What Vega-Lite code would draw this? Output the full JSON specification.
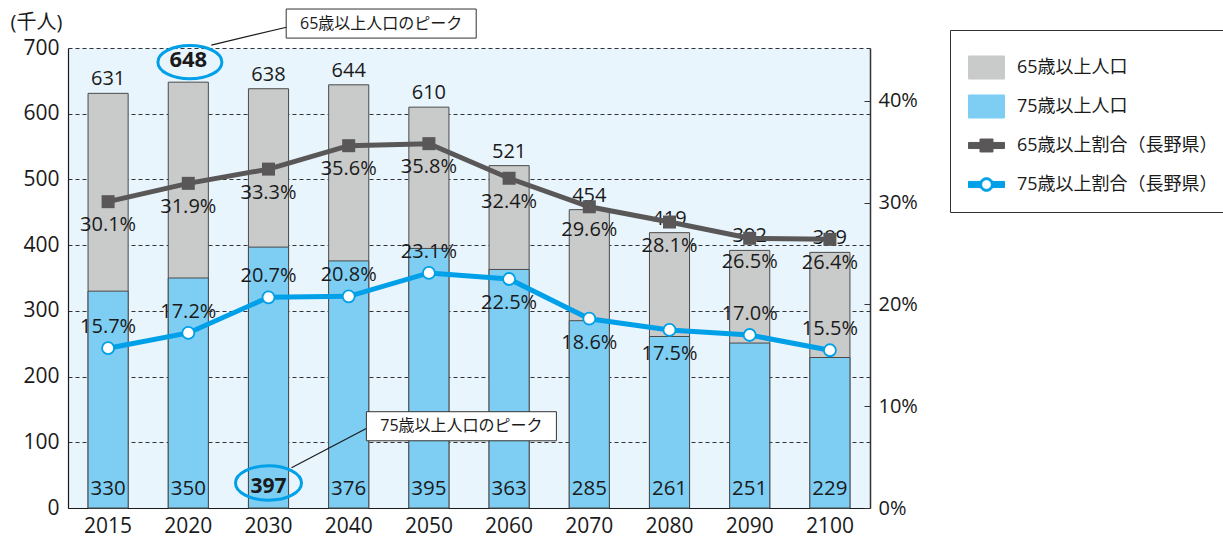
{
  "$schema": "https://vega.github.io/schema/vega-lite/v6.json",
  "width": 802,
  "height": 460,
  "autosize": {"type": "none"},
  "padding": {"left": 68, "top": 48, "right": 353, "bottom": 29},
  "background": "white",
  "config": {
    "font": "Open Sans, Noto Sans CJK JP, sans-serif",
    "view": {"fill": "#e9f5fd", "stroke": null},
    "text": {"font": "Open Sans, Noto Sans CJK JP, sans-serif", "color": "#1a1a1a"},
    "axis": {"labelFont": "Open Sans, Noto Sans CJK JP, sans-serif", "labelColor": "#1a1a1a", "titleFont": "Open Sans, Noto Sans CJK JP, sans-serif"}
  },
  "datasets": {
    "pop": [
      {"year": "2015", "series": "65歳以上人口", "value": 631},
      {"year": "2020", "series": "65歳以上人口", "value": 648},
      {"year": "2030", "series": "65歳以上人口", "value": 638},
      {"year": "2040", "series": "65歳以上人口", "value": 644},
      {"year": "2050", "series": "65歳以上人口", "value": 610},
      {"year": "2060", "series": "65歳以上人口", "value": 521},
      {"year": "2070", "series": "65歳以上人口", "value": 454},
      {"year": "2080", "series": "65歳以上人口", "value": 419},
      {"year": "2090", "series": "65歳以上人口", "value": 392},
      {"year": "2100", "series": "65歳以上人口", "value": 389},
      {"year": "2015", "series": "75歳以上人口", "value": 330},
      {"year": "2020", "series": "75歳以上人口", "value": 350},
      {"year": "2030", "series": "75歳以上人口", "value": 397},
      {"year": "2040", "series": "75歳以上人口", "value": 376},
      {"year": "2050", "series": "75歳以上人口", "value": 395},
      {"year": "2060", "series": "75歳以上人口", "value": 363},
      {"year": "2070", "series": "75歳以上人口", "value": 285},
      {"year": "2080", "series": "75歳以上人口", "value": 261},
      {"year": "2090", "series": "75歳以上人口", "value": 251},
      {"year": "2100", "series": "75歳以上人口", "value": 229}
    ],
    "ratio": [
      {"year": "2015", "series": "65歳以上割合（長野県）", "ratio": 0.301},
      {"year": "2020", "series": "65歳以上割合（長野県）", "ratio": 0.319},
      {"year": "2030", "series": "65歳以上割合（長野県）", "ratio": 0.333},
      {"year": "2040", "series": "65歳以上割合（長野県）", "ratio": 0.356},
      {"year": "2050", "series": "65歳以上割合（長野県）", "ratio": 0.358},
      {"year": "2060", "series": "65歳以上割合（長野県）", "ratio": 0.324},
      {"year": "2070", "series": "65歳以上割合（長野県）", "ratio": 0.296},
      {"year": "2080", "series": "65歳以上割合（長野県）", "ratio": 0.281},
      {"year": "2090", "series": "65歳以上割合（長野県）", "ratio": 0.265},
      {"year": "2100", "series": "65歳以上割合（長野県）", "ratio": 0.264},
      {"year": "2015", "series": "75歳以上割合（長野県）", "ratio": 0.157},
      {"year": "2020", "series": "75歳以上割合（長野県）", "ratio": 0.172},
      {"year": "2030", "series": "75歳以上割合（長野県）", "ratio": 0.207},
      {"year": "2040", "series": "75歳以上割合（長野県）", "ratio": 0.208},
      {"year": "2050", "series": "75歳以上割合（長野県）", "ratio": 0.231},
      {"year": "2060", "series": "75歳以上割合（長野県）", "ratio": 0.225},
      {"year": "2070", "series": "75歳以上割合（長野県）", "ratio": 0.186},
      {"year": "2080", "series": "75歳以上割合（長野県）", "ratio": 0.175},
      {"year": "2090", "series": "75歳以上割合（長野県）", "ratio": 0.17},
      {"year": "2100", "series": "75歳以上割合（長野県）", "ratio": 0.155}
    ],
    "callouts": [
      {"year": "2040", "v": 737.2, "label": "65歳以上人口のピーク"},
      {"year": "2050", "v": 124.4, "label": "75歳以上人口のピーク"}
    ],
    "leaders": [
      {"year": "2020", "year2": "2030", "v": 704.5, "v2": 731.9},
      {"year": "2030", "year2": "2040", "v": 61.3, "v2": 122.1}
    ]
  },
  "layer": [
    {
      "encoding": {
        "x": {
          "field": "year", "type": "ordinal",
          "scale": {"paddingInner": 0.5, "paddingOuter": 0.25},
          "axis": {"title": null, "labelAngle": 0, "labelFontSize": 21, "labelPadding": 7, "ticks": false, "domainColor": "#1a1a1a", "domainWidth": 1.2}
        }
      },
      "layer": [
        {
          "data": {"name": "pop"},
          "mark": {"type": "bar", "stroke": "#4a4a4a", "strokeWidth": 1},
          "encoding": {
            "y": {
              "field": "value", "type": "quantitative", "stack": null,
              "scale": {"domain": [0, 700], "nice": false},
              "axis": {
                "orient": "left", "values": [0, 100, 200, 300, 400, 500, 600, 700],
                "labelFontSize": 21, "labelPadding": 9, "ticks": false,
                "domainColor": "#1a1a1a", "domainWidth": 1.2,
                "grid": true, "gridColor": "#333333", "gridDash": [4, 3], "gridWidth": 1,
                "title": "(千人)", "titleAngle": 0, "titleAlign": "left", "titleBaseline": "alphabetic",
                "titleX": -58, "titleY": -20, "titleFontSize": 20, "titleFontWeight": "normal", "titleColor": "#1a1a1a"
              }
            },
            "color": {
              "field": "series", "type": "nominal",
              "scale": {
                "domain": ["65歳以上人口", "75歳以上人口", "65歳以上割合（長野県）", "75歳以上割合（長野県）"],
                "range": ["#c9caca", "#7ecef4", "#595757", "#00a0e9"]
              },
              "legend": {
                "orient": "none", "legendX": 882, "legendY": -18,
                "title": " ", "titleFontSize": 8, "titlePadding": 4,
                "padding": 7, "symbolOffset": 11, "labelOffset": 12, "rowPadding": -2.2,
                "symbolSize": 1296, "labelFontSize": 18, "labelColor": "#1a1a1a", "labelLimit": 320,
                "labelFont": "Open Sans, Noto Sans CJK JP, sans-serif",
                "strokeColor": "#333333", "fillColor": "white", "cornerRadius": 0,
                "symbolType": {"expr": "datum.value === '65歳以上人口' || datum.value === '75歳以上人口' ? 'M-1,-1M1,1M-1,-0.64H1V0.64H-1Z' : datum.value === '65歳以上割合（長野県）' ? 'M-1,-1M1,1M-1,-0.17H1V0.17H-1Z M-0.36,-0.36H0.36V0.36H-0.36Z' : 'M-1,-1M1,1M-1,-0.17H-0.3V0.17H-1Z M0.3,-0.17H1V0.17H0.3Z M-0.38,0A0.38,0.38 0 1,1 0.38,0A0.38,0.38 0 1,1 -0.38,0Z M-0.27,0A0.27,0.27 0 1,0 0.27,0A0.27,0.27 0 1,0 -0.27,0Z'"},
                "symbolStrokeWidth": 1,
                "symbolStrokeColor": {"expr": "datum.value === '65歳以上人口' || datum.value === '75歳以上人口' ? '#333333' : 'transparent'"},
                "symbolOpacity": 1
              }
            }
          }
        },
        {
          "data": {"name": "pop"},
          "transform": [
            {"joinaggregate": [{"op": "max", "field": "value", "as": "peak"}], "groupby": ["series"]},
            {"filter": "datum.series === '65歳以上人口' && datum.value !== datum.peak"}
          ],
          "mark": {"type": "text", "fontSize": 20, "baseline": "alphabetic", "dy": -8},
          "encoding": {
            "y": {"field": "value", "type": "quantitative"},
            "text": {"field": "value", "type": "quantitative"}
          }
        },
        {
          "data": {"name": "pop"},
          "transform": [
            {"joinaggregate": [{"op": "max", "field": "value", "as": "peak"}], "groupby": ["series"]},
            {"filter": "datum.series === '65歳以上人口' && datum.value === datum.peak"}
          ],
          "layer": [
            {
              "mark": {"type": "text", "fontSize": 22, "fontWeight": "bold", "baseline": "alphabetic", "dy": -15.5},
              "encoding": {
                "y": {"field": "value", "type": "quantitative"},
                "text": {"field": "value", "type": "quantitative"}
              }
            },
            {
              "mark": {"type": "point", "shape": "M-1,0A1,0.52 0 1,1 1,0A1,0.52 0 1,1 -1,0Z", "size": 4096, "filled": false, "stroke": "#00a0e9", "color": "#00a0e9", "strokeWidth": 3, "opacity": 1, "xOffset": 1.6, "yOffset": -20},
              "encoding": {"y": {"field": "value", "type": "quantitative"}}
            }
          ]
        },
        {
          "data": {"name": "pop"},
          "transform": [
            {"joinaggregate": [{"op": "max", "field": "value", "as": "peak"}], "groupby": ["series"]},
            {"filter": "datum.series === '75歳以上人口' && datum.value !== datum.peak"}
          ],
          "mark": {"type": "text", "fontSize": 20.5, "baseline": "alphabetic", "dy": -13},
          "encoding": {
            "y": {"datum": 0, "type": "quantitative"},
            "text": {"field": "value", "type": "quantitative"}
          }
        },
        {
          "data": {"name": "pop"},
          "transform": [
            {"joinaggregate": [{"op": "max", "field": "value", "as": "peak"}], "groupby": ["series"]},
            {"filter": "datum.series === '75歳以上人口' && datum.value === datum.peak"}
          ],
          "layer": [
            {
              "mark": {"type": "text", "fontSize": 21, "fontWeight": "bold", "baseline": "alphabetic", "dy": -15},
              "encoding": {
                "y": {"datum": 0, "type": "quantitative"},
                "text": {"field": "value", "type": "quantitative"}
              }
            },
            {
              "mark": {"type": "point", "shape": "M-1,0A1,0.52 0 1,1 1,0A1,0.52 0 1,1 -1,0Z", "size": 4356, "filled": false, "stroke": "#00a0e9", "color": "#00a0e9", "strokeWidth": 3, "opacity": 1, "yOffset": -25},
              "encoding": {"y": {"datum": 0, "type": "quantitative"}}
            }
          ]
        },
        {
          "data": {"name": "leaders"},
          "mark": {"type": "rule", "color": "#1a1a1a", "strokeWidth": 1.2, "xOffset": 23, "x2Offset": 19},
          "encoding": {
            "x2": {"field": "year2"},
            "y": {"field": "v", "type": "quantitative"},
            "y2": {"field": "v2"}
          }
        },
        {
          "data": {"name": "callouts"},
          "layer": [
            {
              "mark": {"type": "point", "shape": "M-1,-0.153H1V0.153H-1Z", "size": 36100, "filled": true, "fill": "white", "stroke": "#333333", "strokeWidth": 1, "opacity": 1, "xOffset": 32.5},
              "encoding": {"y": {"field": "v", "type": "quantitative"}}
            },
            {
              "mark": {"type": "text", "fontSize": 16, "baseline": "middle", "align": "center", "xOffset": 32.5},
              "encoding": {
                "y": {"field": "v", "type": "quantitative"},
                "text": {"field": "label"}
              }
            }
          ]
        }
      ]
    },
    {
      "data": {"name": "ratio"},
      "encoding": {
        "x": {"field": "year", "type": "ordinal", "scale": {"paddingInner": 0.5, "paddingOuter": 0.25}},
        "y": {
          "field": "ratio", "type": "quantitative",
          "scale": {"domain": [0, 0.452], "nice": false},
          "axis": {
            "orient": "right", "values": [0, 0.1, 0.2, 0.3, 0.4], "format": ".0%",
            "labelFontSize": 20, "labelPadding": 14, "tickSize": -6, "tickColor": "#333333",
            "domainColor": "#333333", "domainWidth": 1.5, "grid": false, "title": null
          }
        }
      },
      "layer": [
        {
          "mark": {"type": "line", "strokeWidth": 5},
          "encoding": {"color": {"field": "series", "type": "nominal", "legend": null}}
        },
        {
          "transform": [{"filter": "datum.series === '65歳以上割合（長野県）'"}],
          "mark": {"type": "point", "shape": "square", "size": 169, "filled": true, "color": "#595757", "opacity": 1}
        },
        {
          "transform": [{"filter": "datum.series === '75歳以上割合（長野県）'"}],
          "mark": {"type": "point", "shape": "circle", "size": 144, "filled": true, "fill": "white", "stroke": "#00a0e9", "strokeWidth": 1.8, "opacity": 1}
        },
        {
          "transform": [{"filter": "datum.series === '65歳以上割合（長野県）'"}],
          "mark": {"type": "text", "fontSize": 20, "baseline": "middle", "dy": 23.5},
          "encoding": {"text": {"field": "ratio", "type": "quantitative", "format": ".1%"}}
        },
        {
          "transform": [{"filter": "datum.series === '75歳以上割合（長野県）' && datum.year !== '2060' && datum.year !== '2070' && datum.year !== '2080'"}],
          "mark": {"type": "text", "fontSize": 20, "baseline": "middle", "dy": -21},
          "encoding": {"text": {"field": "ratio", "type": "quantitative", "format": ".1%"}}
        },
        {
          "transform": [{"filter": "datum.series === '75歳以上割合（長野県）' && (datum.year === '2060' || datum.year === '2070' || datum.year === '2080')"}],
          "mark": {"type": "text", "fontSize": 20, "baseline": "middle", "dy": 24},
          "encoding": {"text": {"field": "ratio", "type": "quantitative", "format": ".1%"}}
        }
      ]
    }
  ],
  "resolve": {"scale": {"y": "independent"}}
}
